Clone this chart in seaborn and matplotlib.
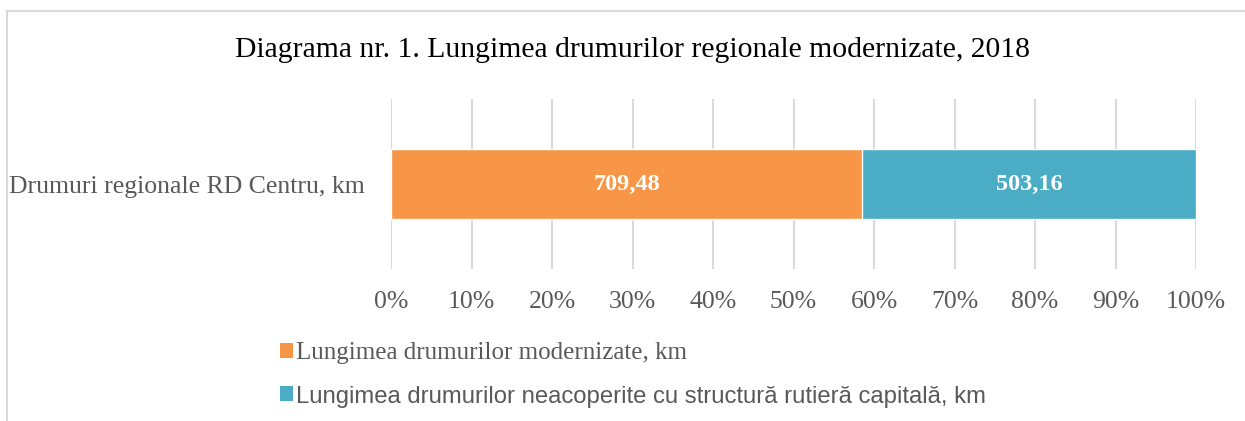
import numpy as np
import pandas as pd
import matplotlib.pyplot as plt
import seaborn as sns
from matplotlib.patches import Patch, Rectangle

sns.set_theme(style="white")

# ── Data ────────────────────────────────────────────────────────────────────
category = ["Drumuri regionale RD Centru, km"]
series_names = ["Lungimea drumurilor modernizate, km",
                "Lungimea drumurilor neacoperite cu structură rutieră capitală, km"]
values = [709.48, 503.16]
colors = ["#F79646", "#4BACC6"]

pct = np.array(values) / sum(values) * 100
cum = np.cumsum(pct)

gray = "#595959"
serif = ["Liberation Serif", "DejaVu Serif"]

fig = plt.figure(figsize=(12.45, 4.21), dpi=100)
ax = fig.add_axes([391 / 1245, 1 - 269 / 421, 805 / 1245, 170 / 421])

# stacked bar: draw cumulative totals back to front
for i in range(len(values) - 1, -1, -1):
    df = pd.DataFrame({"cat": category, "val": [cum[i]]})
    sns.barplot(data=df, x="val", y="cat", color=colors[i], width=0.406,
                saturation=1, ax=ax, orient="h")

for i, v in enumerate(values):
    mid = cum[i] - pct[i] / 2
    ax.text(mid, 0, f"{v:.2f}".replace(".", ","), ha="center", va="center",
            color="white", fontsize=17.5, fontweight="bold", family=serif)

ax.set_xlim(0, 100)
ax.set_ylim(0.5, -0.5)
ax.set_xticks(range(0, 101, 10))
ax.set_xticklabels([f"{t}%" for t in range(0, 101, 10)], family=serif,
                   fontsize=18.5, color=gray)
ax.set_yticks([0])
ax.set_yticklabels(category, family=serif, fontsize=18.5, color=gray)
ax.tick_params(axis="x", length=0, pad=16)
ax.tick_params(axis="y", length=0, pad=19)
ax.set_xlabel(""); ax.set_ylabel("")
ax.grid(axis="x", color="#D9D9D9", lw=1.5)
ax.set_axisbelow(True)
for s in ax.spines.values():
    s.set_visible(False)

fig.text(632 / 1245, 1 - 50 / 421,
         "Diagrama nr. 1. Lungimea drumurilor regionale modernizate, 2018",
         ha="center", va="center", fontsize=21.3, family=serif, color="black")

handles = [Patch(facecolor=c, edgecolor="none") for c in colors]
leg = ax.legend(handles, series_names, loc="upper left",
                bbox_to_anchor=(257 / 1245, 1 - 320 / 421),
                bbox_transform=fig.transFigure, frameon=False,
                handlelength=0.55, handleheight=0.55, handletextpad=0.12,
                labelspacing=0.85, fontsize=18)
texts = leg.get_texts()
texts[0].set_family(serif)
texts[1].set_family(["Liberation Sans", "DejaVu Sans"])
texts[1].set_fontsize(17.2)
for t in texts:
    t.set_color(gray)

# chart frame
fig.patches.append(Rectangle((7 / 1245, -0.1), 1.2, 1.1 - 11 / 421,
                             transform=fig.transFigure, fill=False,
                             edgecolor="#D9D9D9", lw=1.5))

plt.savefig("out.png", dpi=100)
